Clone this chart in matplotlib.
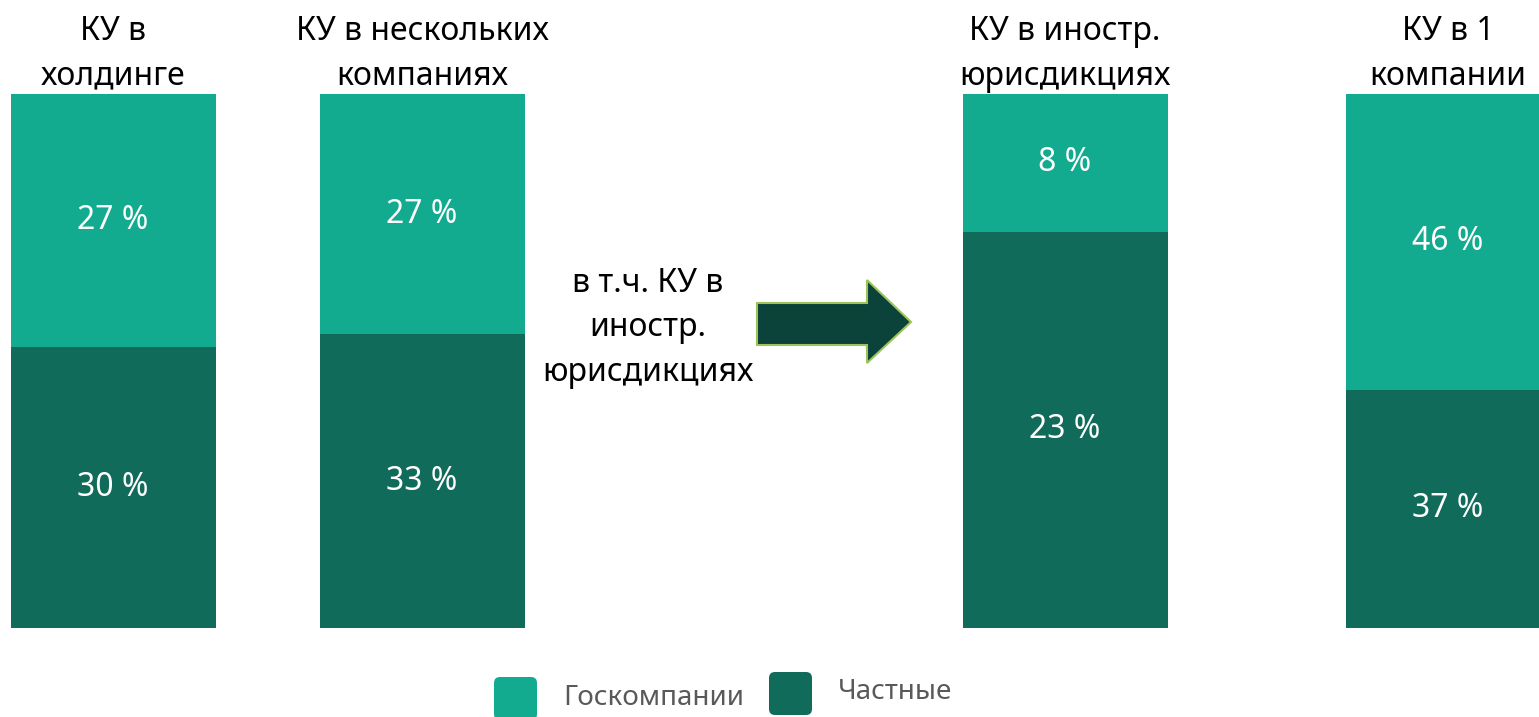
import matplotlib
matplotlib.use("Agg")
import matplotlib.pyplot as plt
import matplotlib.patches as patches
import numpy as np

plt.rcParams['font.family'] = ['Noto Sans', 'DejaVu Sans']

# данные
categories = ["КУ в\nхолдинге", "КУ в нескольких\nкомпаниях",
              "КУ в иностр.\nюрисдикциях", "КУ в 1\nкомпании"]
gos = [27, 27, 8, 46]        # Госкомпании, %
chastnye = [30, 33, 23, 37]  # Частные, %
series_names = ["Госкомпании", "Частные"]
middle_text = "в т.ч. КУ в\nиностр.\nюрисдикциях"

TEAL = "#13AB8F"
DARK = "#106B5B"

W, H = 1539, 717
fig = plt.figure(figsize=(W / 100, H / 100), dpi=100)

# main axes: x in pixels, y in share (0..1) of the bar
ax = fig.add_axes([0, 0, 1, 1])
y_bot, y_top = 628, 94          # pixel rows of share 0 and share 1
scale = y_bot - y_top
ax.set_xlim(0, W)
ax.set_ylim(-(H - y_bot) / scale, 1 + y_top / scale)
ax.axis("off")

x_pos = [113, 422, 1065, 1448]
bar_w = 205

gos_a = np.array(gos, dtype=float)
ch_a = np.array(chastnye, dtype=float)
total = gos_a + ch_a
ch_share = ch_a / total
gos_share = gos_a / total

ax.bar(x_pos, gos_share, width=bar_w, bottom=ch_share, color=TEAL)
ax.bar(x_pos, ch_share, width=bar_w, color=DARK)

for x, g, c, gs, cs in zip(x_pos, gos, chastnye, gos_share, ch_share):
    ax.text(x, cs + gs / 2, f"{g} %", color="white", fontsize=23,
            ha="center", va="center")
    ax.text(x, cs / 2, f"{c} %", color="white", fontsize=23,
            ha="center", va="center")

# overlay in pixel coordinates for titles, arrow, legend
ov = fig.add_axes([0, 0, 1, 1], facecolor="none")
ov.set_xlim(0, W)
ov.set_ylim(H, 0)
ov.axis("off")

for x, cat in zip(x_pos, categories):
    ov.text(x, 54, cat, fontsize=23, ha="center", va="center",
            color="black", linespacing=1.45)

ov.text(648, 328, middle_text, fontsize=23, ha="center", va="center",
        color="black", linespacing=1.45)

arrow = patches.Polygon([[757, 303], [867, 303], [867, 280], [911, 322],
                         [867, 363], [867, 345], [757, 345]],
                        closed=True, facecolor="#0B4239",
                        edgecolor="#9DC35A", linewidth=1.5)
ov.add_patch(arrow)

# legend
for (x0, y0), col, name, tx, ty in [((494, 677), TEAL, series_names[0], 563, 698),
                                    ((769, 672), DARK, series_names[1], 838, 692)]:
    ov.add_patch(patches.FancyBboxPatch((x0, y0), 43, 43,
                                        boxstyle="round,pad=0,rounding_size=6",
                                        facecolor=col, edgecolor="none"))
    ov.text(tx, ty, name, fontsize=20, color="#595959", ha="left", va="center")

fig.savefig("out.png", dpi=100)
